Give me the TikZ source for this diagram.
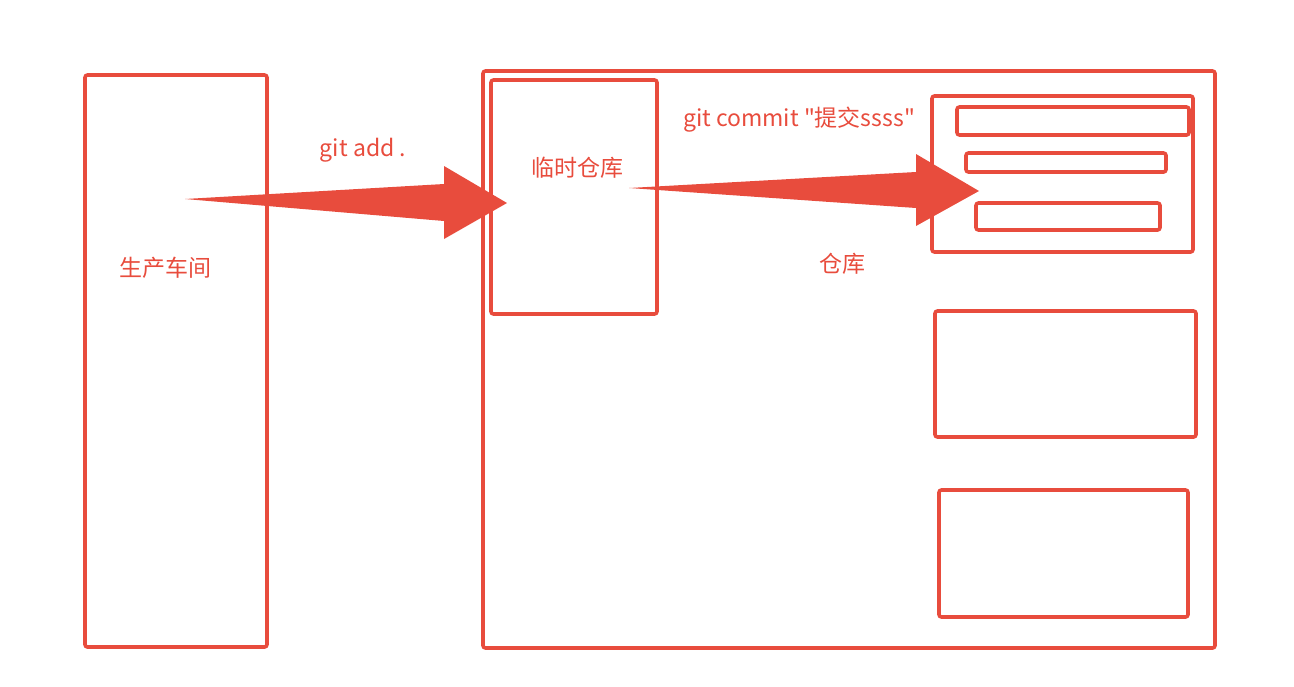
\documentclass[tikz,border=0pt]{standalone}
\usepackage{fontspec}
\setmainfont{Noto Sans CJK SC}[Ligatures=TeXOff]
\definecolor{gr}{HTML}{E84C3D}
\begin{document}
\begin{tikzpicture}[x=1pt,y=-1pt,
  box/.style={draw=gr,line width=3.6pt,rounded corners=2.5pt},
  lbl/.style={text=gr,font=\fontsize{23}{27}\selectfont,inner sep=0pt},
  fat/.style={fill=gr,draw=none}]
\useasboundingbox (0,0) rectangle (1294,686);
% boxes
\draw[box] (85,75) rectangle (267,647);
\draw[box] (483,71) rectangle (1215,648);
\draw[box] (491,80) rectangle (657,314);
\draw[box] (932,96) rectangle (1193,252);
\draw[box] (957,107) rectangle (1189,135);
\draw[box] (966,153) rectangle (1166,172);
\draw[box] (976,203) rectangle (1160,230);
\draw[box] (935,311) rectangle (1196,437);
\draw[box] (939,490) rectangle (1188,617);
% labels
\node[lbl] (work) at (165,268) {生产车间};
\node[lbl] (add) at (363,150) {git add .};
\node[lbl] (stage) at (577,168) {临时仓库};
\node[lbl] (commit) at (799,120) {git commit "提交ssss"};
\node[lbl] (repo) at (842,264) {仓库};
% fat arrows
\coordinate (t1) at (185,199);
\coordinate (h1) at (507,203);
\fill[fat] (t1) -- (444,184) -- (444,166) -- (h1) -- (444,239) -- (444,221) -- cycle;
\coordinate (t2) at (629,188);
\coordinate (h2) at (979,191);
\fill[fat] (t2) -- (916,172) -- (916,154) -- (h2) -- (916,226) -- (916,208) -- cycle;
\end{tikzpicture}
\end{document}
